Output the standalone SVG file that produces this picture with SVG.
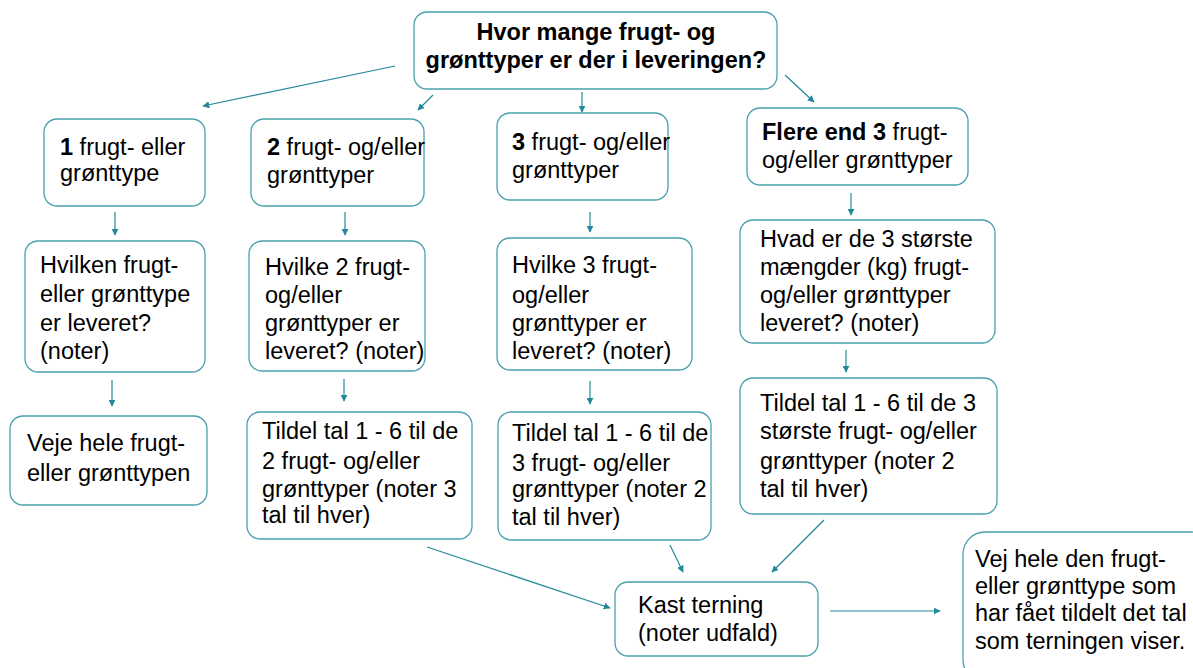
<svg xmlns="http://www.w3.org/2000/svg" width="1193" height="668" viewBox="0 0 1193 668">
<defs>
<style>
.box{fill:#fff;stroke:#4aa0ac;stroke-width:1.3}
.t{font-family:"Liberation Sans",Arial,sans-serif;font-size:23.5px;fill:#000}
.b{font-weight:bold}
.c{stroke:#23899a;stroke-width:1.2;fill:none;marker-end:url(#ah)}
</style>
<marker id="ah" viewBox="0 0 10 10" refX="9" refY="5" markerWidth="7" markerHeight="7" orient="auto" markerUnits="userSpaceOnUse">
<path d="M0,0 L10,5 L0,10 z" fill="#23899a"/>
</marker>
</defs>
<rect width="1193" height="668" fill="#fff"/>
<g id="connectors">
<line class="c" x1="395" y1="66" x2="203" y2="106"/>
<line class="c" x1="433" y1="95" x2="418" y2="110"/>
<line class="c" x1="582" y1="92" x2="582" y2="112"/>
<line class="c" x1="785" y1="75" x2="814" y2="102"/>
<line class="c" x1="115" y1="212" x2="115" y2="235"/>
<line class="c" x1="345" y1="212" x2="345" y2="235"/>
<line class="c" x1="590" y1="212" x2="590" y2="232"/>
<line class="c" x1="851" y1="193" x2="851" y2="215"/>
<line class="c" x1="112" y1="380" x2="112" y2="406"/>
<line class="c" x1="344" y1="379" x2="344" y2="401"/>
<line class="c" x1="590" y1="381" x2="590" y2="404"/>
<line class="c" x1="846" y1="350" x2="846" y2="372"/>
<line class="c" x1="427" y1="547" x2="610" y2="608"/>
<line class="c" x1="670" y1="545" x2="683" y2="572"/>
<line class="c" x1="824" y1="520" x2="772" y2="572"/>
<line class="c" x1="830" y1="611" x2="940" y2="611"/>
</g>
<g id="q">
<rect class="box" x="414" y="12" width="363" height="77" rx="13"/>
<text class="t b" x="596" y="40" text-anchor="middle" font-size="24">Hvor mange frugt- og</text>
<text class="t b" x="596" y="68" text-anchor="middle" font-size="24">grønttyper er der i leveringen?</text>
</g>
<g id="n1">
<rect class="box" x="44" y="119" width="161" height="87" rx="13"/>
<text class="t" x="60" y="155"><tspan class="b">1</tspan> frugt- eller</text>
<text class="t" x="60" y="181">grønttype</text>
</g>
<g id="n2">
<rect class="box" x="251" y="119" width="173" height="87" rx="13"/>
<text class="t" x="267" y="155"><tspan class="b">2</tspan> frugt- og/eller</text>
<text class="t" x="267" y="183">grønttyper</text>
</g>
<g id="n3">
<rect class="box" x="497" y="113" width="171" height="87" rx="13"/>
<text class="t" x="512" y="150"><tspan class="b">3</tspan> frugt- og/eller</text>
<text class="t" x="512" y="178">grønttyper</text>
</g>
<g id="n4">
<rect class="box" x="747" y="108" width="221" height="77" rx="13"/>
<text class="t" x="762" y="140"><tspan class="b">Flere end 3</tspan> frugt-</text>
<text class="t" x="762" y="168">og/eller grønttyper</text>
</g>
<g id="a2">
<rect class="box" x="25" y="241" width="180" height="131" rx="13"/>
<text class="t" x="40" y="273">Hvilken frugt-</text>
<text class="t" x="40" y="302">eller grønttype</text>
<text class="t" x="40" y="331">er leveret?</text>
<text class="t" x="40" y="359">(noter)</text>
</g>
<g id="b2">
<rect class="box" x="249" y="241" width="176" height="130" rx="13"/>
<text class="t" x="265" y="275">Hvilke 2 frugt-</text>
<text class="t" x="265" y="303">og/eller</text>
<text class="t" x="265" y="331">grønttyper er</text>
<text class="t" x="265" y="359">leveret? (noter)</text>
</g>
<g id="c2">
<rect class="box" x="497" y="238" width="195" height="132" rx="13"/>
<text class="t" x="512" y="273">Hvilke 3 frugt-</text>
<text class="t" x="512" y="303">og/eller</text>
<text class="t" x="512" y="331">grønttyper er</text>
<text class="t" x="512" y="359">leveret? (noter)</text>
</g>
<g id="d2">
<rect class="box" x="740" y="220" width="255" height="123" rx="13"/>
<text class="t" x="760" y="247">Hvad er de 3 største</text>
<text class="t" x="760" y="275">mængder (kg) frugt-</text>
<text class="t" x="760" y="303">og/eller grønttyper</text>
<text class="t" x="760" y="331">leveret? (noter)</text>
</g>
<g id="a3">
<rect class="box" x="10" y="416" width="197" height="89" rx="13"/>
<text class="t" x="27" y="451">Veje hele frugt-</text>
<text class="t" x="27" y="481">eller grønttypen</text>
</g>
<g id="b3">
<rect class="box" x="247" y="412" width="225" height="127" rx="13"/>
<text class="t" x="262" y="439">Tildel tal 1 - 6 til de</text>
<text class="t" x="262" y="469">2 frugt- og/eller</text>
<text class="t" x="262" y="497">grønttyper (noter 3</text>
<text class="t" x="262" y="523">tal til hver)</text>
</g>
<g id="c3">
<rect class="box" x="498" y="412" width="213" height="128" rx="13"/>
<text class="t" x="512" y="441">Tildel tal 1 - 6 til de</text>
<text class="t" x="512" y="471">3 frugt- og/eller</text>
<text class="t" x="512" y="497">grønttyper (noter 2</text>
<text class="t" x="512" y="525">tal til hver)</text>
</g>
<g id="d3">
<rect class="box" x="740" y="378" width="257" height="136" rx="13"/>
<text class="t" x="760" y="411">Tildel tal 1 - 6 til de 3</text>
<text class="t" x="760" y="439">største frugt- og/eller</text>
<text class="t" x="760" y="469">grønttyper (noter 2</text>
<text class="t" x="760" y="497">tal til hver)</text>
</g>
<g id="kast">
<rect class="box" x="615" y="582" width="203" height="74" rx="13"/>
<text class="t" x="638" y="613">Kast terning</text>
<text class="t" x="638" y="641">(noter udfald)</text>
</g>
<g id="final">
<rect class="box" x="963" y="532" width="250" height="150" rx="22"/>
<text class="t" x="975" y="567">Vej hele den frugt-</text>
<text class="t" x="975" y="594">eller grønttype som</text>
<text class="t" x="975" y="621">har fået tildelt det tal</text>
<text class="t" x="975" y="649">som terningen viser.</text>
</g>
</svg>
